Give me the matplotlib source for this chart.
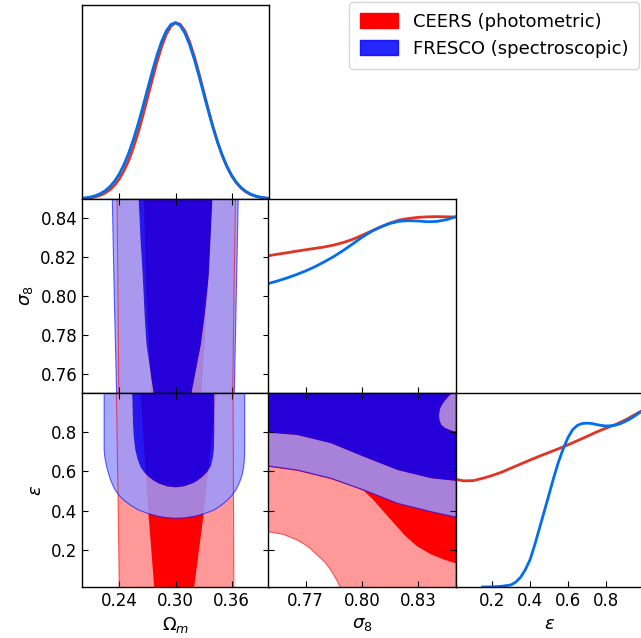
import numpy as np
import matplotlib
matplotlib.use("Agg")
import matplotlib.pyplot as plt
from matplotlib.path import Path
from matplotlib.patches import PathPatch, Patch
from matplotlib.ticker import FormatStrFormatter

# ---- 1D marginals ----
om_grid = np.linspace(0.20, 0.40, 41)
om_ceers = [0.0026, 0.0047, 0.0080, 0.0135, 0.0219, 0.0346, 0.0531, 0.0791, 0.1145, 0.1611,
            0.2198, 0.2917, 0.3758, 0.4700, 0.5714, 0.6746, 0.7735, 0.8615, 0.9319, 0.9792,
            0.9994, 0.9907, 0.9539, 0.8921, 0.8103, 0.7150, 0.6128, 0.5100, 0.4124, 0.3239,
            0.2470, 0.1830, 0.1317, 0.0920, 0.0625, 0.0412, 0.0264, 0.0164, 0.0099, 0.0058, 0.0033]
om_fresco = [0.0044, 0.0075, 0.0124, 0.0200, 0.0313, 0.0477, 0.0708, 0.1022, 0.1436, 0.1962,
             0.2610, 0.3376, 0.4251, 0.5209, 0.6206, 0.7196, 0.8118, 0.8911, 0.9517, 0.9890,
             0.9999, 0.9836, 0.9414, 0.8766, 0.7942, 0.7001, 0.6005, 0.5011, 0.4069, 0.3214,
             0.2471, 0.1848, 0.1345, 0.0952, 0.0656, 0.0439, 0.0286, 0.0182, 0.0112, 0.0067, 0.0039]

s8_grid = np.linspace(0.75, 0.85, 21)
s8_ceers = [0.778, 0.787, 0.795, 0.804, 0.812, 0.820, 0.828, 0.839, 0.853, 0.871, 0.894,
            0.918, 0.942, 0.964, 0.981, 0.990, 0.996, 0.999, 1.000, 0.999, 0.998]
s8_fresco = [0.620, 0.635, 0.652, 0.671, 0.692, 0.716, 0.744, 0.774, 0.808, 0.845, 0.883,
             0.916, 0.942, 0.962, 0.974, 0.977, 0.975, 0.971, 0.973, 0.983, 1.000]

eps_ceers_x = [0.01, 0.05, 0.10, 0.15, 0.20, 0.25, 0.30, 0.35, 0.40, 0.45, 0.50,
               0.55, 0.60, 0.65, 0.70, 0.75, 0.80, 0.85, 0.90, 0.95, 1.00]
eps_ceers = [0.610, 0.602, 0.603, 0.616, 0.632, 0.651, 0.674, 0.697, 0.720, 0.742, 0.763,
             0.784, 0.806, 0.830, 0.854, 0.879, 0.901, 0.921, 0.946, 0.976, 1.006]
eps_fresco_x = [0.15, 0.20, 0.25, 0.30, 0.325, 0.35, 0.375, 0.40, 0.425, 0.45, 0.475, 0.50,
                0.525, 0.55, 0.575, 0.60, 0.625, 0.65, 0.675, 0.70, 0.725, 0.75, 0.775,
                0.80, 0.825, 0.85, 0.875, 0.90, 0.925, 0.95, 0.975, 1.00]
eps_fresco = [0.000, 0.001, 0.004, 0.012, 0.028, 0.055, 0.098, 0.155, 0.240, 0.335, 0.430, 0.525,
              0.622, 0.710, 0.785, 0.848, 0.893, 0.917, 0.927, 0.929, 0.927, 0.921, 0.916,
              0.913, 0.914, 0.918, 0.926, 0.938, 0.952, 0.969, 0.988, 1.003]

# ---- 2D contour outlines ----
# Omega_m vs sigma_8
ml_red_out = [(0.2373, 0.86), (0.2385, 0.80), (0.2395, 0.74), (0.361, 0.74), (0.3625, 0.80), (0.3645, 0.86)]
ml_red_in = [(0.2655, 0.86), (0.269, 0.80), (0.2755, 0.74), (0.3265, 0.74), (0.334, 0.80), (0.3405, 0.86)]
ml_blue_out = [(0.232, 0.86), (0.2345, 0.80), (0.2375, 0.74), (0.3625, 0.74), (0.365, 0.80), (0.3675, 0.86)]
ml_blue_in = [(0.2600, 0.86), (0.2606, 0.85), (0.2625, 0.83), (0.2650, 0.81), (0.2670, 0.79),
              (0.2690, 0.775), (0.272, 0.765), (0.2767, 0.75), (0.280, 0.74),
              (0.313, 0.74), (0.317, 0.75), (0.323, 0.765), (0.327, 0.775), (0.331, 0.79),
              (0.3355, 0.81), (0.3375, 0.83), (0.3394, 0.85), (0.340, 0.86)]

# Omega_m vs epsilon
bl_red_out = [(0.2366, 1.05), (0.2385, 0.5), (0.240, -0.05), (0.3625, -0.05), (0.362, 0.5), (0.3615, 1.05)]
bl_red_in = [(0.262, 1.05), (0.2713, 0.37), (0.2774, 0.0), (0.2774, -0.05),
             (0.3197, -0.05), (0.3197, 0.0), (0.3298, 0.37), (0.345, 1.05)]
bl_blue_out = [(0.2237, 1.05), (0.2237, 0.71), (0.2242, 0.68), (0.2252, 0.65), (0.2266, 0.62),
               (0.2283, 0.59), (0.2303, 0.56), (0.2326, 0.533), (0.2355, 0.505), (0.2396, 0.478),
               (0.2444, 0.454), (0.252, 0.427), (0.2606, 0.403), (0.270, 0.386), (0.2803, 0.372),
               (0.290, 0.364), (0.300, 0.361), (0.310, 0.363), (0.3215, 0.372), (0.332, 0.386),
               (0.3412, 0.403), (0.349, 0.427), (0.3556, 0.454), (0.3605, 0.478), (0.3645, 0.505),
               (0.3675, 0.533), (0.3698, 0.56), (0.3717, 0.59), (0.3728, 0.62), (0.3735, 0.65),
               (0.3738, 0.68), (0.374, 0.71), (0.374, 1.05)]
bl_blue_in = [(0.2534, 1.05), (0.2545, 0.85), (0.2553, 0.78), (0.257, 0.71), (0.2593, 0.665),
              (0.2624, 0.624), (0.2665, 0.595), (0.2713, 0.573), (0.2765, 0.554), (0.282, 0.539),
              (0.291, 0.524), (0.300, 0.519), (0.309, 0.524), (0.318, 0.539), (0.3237, 0.554),
              (0.3287, 0.573), (0.3337, 0.597), (0.3376, 0.624), (0.3398, 0.665), (0.341, 0.71),
              (0.3414, 0.78), (0.3415, 0.85), (0.3412, 1.05)]

# sigma_8 vs epsilon (lower edges of the regions)
bm_red_out = [(0.74, 0.30), (0.75, 0.292), (0.758, 0.279), (0.7656, 0.25), (0.7715, 0.215),
              (0.7763, 0.173), (0.7805, 0.135), (0.7834, 0.096), (0.786, 0.055), (0.7884, 0.01), (0.789, -0.05)]
bm_red_in = [(0.74, 0.64), (0.75, 0.624), (0.7656, 0.603), (0.7835, 0.561), (0.798, 0.512),
             (0.801, 0.50), (0.806, 0.455), (0.811, 0.40), (0.817, 0.335), (0.8226, 0.275),
             (0.829, 0.22), (0.836, 0.18), (0.843, 0.152), (0.849, 0.133), (0.86, 0.12)]
bm_blue_out = [(0.74, 0.632), (0.75, 0.628), (0.7656, 0.607), (0.7835, 0.565), (0.801, 0.505),
               (0.819, 0.437), (0.837, 0.394), (0.849, 0.369), (0.86, 0.36)]
bm_blue_in = [(0.74, 0.80), (0.75, 0.798), (0.7656, 0.786), (0.7835, 0.744), (0.801, 0.675),
              (0.819, 0.607), (0.837, 0.565), (0.849, 0.553), (0.86, 0.55)]
bm_blue_hole = [(0.86, 0.797), (0.851, 0.800), (0.8475, 0.808), (0.844, 0.822), (0.8422, 0.837),
                (0.8412, 0.86), (0.8409, 0.888), (0.8415, 0.92), (0.843, 0.948), (0.8466, 0.99),
                (0.849, 1.0), (0.851, 1.05)]

labels = ['CEERS (photometric)', 'FRESCO (spectroscopic)']
om_ticks = [0.24, 0.30, 0.36]
s8_ticks = [0.77, 0.80, 0.83]
s8_yticks = [0.76, 0.78, 0.80, 0.82, 0.84]
eps_ticks = [0.2, 0.4, 0.6, 0.8]

red_dark, red_light = '#ff0000', '#ff9999'
blue_dark, blue_light = '#0000ff', '#9999ff'
line_red, line_blue = '#E03424', '#006FED'
alpha_add = 0.85


def signed_area(p):
    x, y = p[:, 0], p[:, 1]
    return 0.5 * np.sum(x * np.roll(y, -1) - np.roll(x, -1) * y)


def ring_path(outer, inner):
    # outer polygon with inner polygon cut out
    outer = np.asarray(outer)
    inner = np.asarray(inner)
    if np.sign(signed_area(outer)) == np.sign(signed_area(inner)):
        inner = inner[::-1]
    verts = np.concatenate([outer, outer[:1], inner, inner[:1]])
    codes = ([Path.MOVETO] + [Path.LINETO] * (len(outer) - 1) + [Path.CLOSEPOLY]
             + [Path.MOVETO] + [Path.LINETO] * (len(inner) - 1) + [Path.CLOSEPOLY])
    return Path(verts, codes)


def fill(ax, pts, color, alpha=1.0):
    pts = np.asarray(pts)
    ax.fill(pts[:, 0], pts[:, 1], color=color, alpha=alpha, lw=0)


def edge(ax, pts, color, closed=True):
    pts = np.asarray(pts)
    if closed:
        pts = np.concatenate([pts, pts[:1]])
    ax.plot(pts[:, 0], pts[:, 1], color=color, lw=0.8, alpha=0.6)


fig = plt.figure(figsize=(6.41, 6.38), dpi=100)
W, H = 641.0, 638.0
lefts = [82 / W, 268 / W, 456 / W]
widths = [187 / W, 188 / W, 188 / W]
bottoms = [1 - 199 / H, 1 - 393 / H, 1 - 587 / H]
ph = 194 / H


def panel(col, row):
    ax = fig.add_axes([lefts[col], bottoms[row], widths[col], ph])
    for s in ax.spines.values():
        s.set_linewidth(1.0)
    return ax


def style_2d(ax):
    ax.tick_params(direction='in', top=True, right=True, labelsize=12, length=4.5)


def style_1d(ax):
    ax.tick_params(direction='in', left=False, labelleft=False, labelbottom=False, length=4.5)
    ax.set_ylim(0, 1.1)


om_lim, s8_lim, eps_lim = (0.2, 0.4), (0.75, 0.85), (0.01, 1.0)
lab_size = 13

# top-left: Omega_m 1D
ax = panel(0, 0)
ax.plot(om_grid, om_ceers, color=line_red, lw=2)
ax.plot(om_grid, om_fresco, color=line_blue, lw=2)
ax.set_xlim(om_lim)
ax.set_xticks(om_ticks)
style_1d(ax)

# middle-left: Omega_m vs sigma_8
ax = panel(0, 1)
fill(ax, ml_red_out, red_light)
fill(ax, ml_red_in, red_dark)
ax.add_patch(PathPatch(ring_path(ml_blue_out, ml_blue_in), facecolor=blue_light, alpha=alpha_add, lw=0))
fill(ax, ml_blue_in, blue_dark, alpha_add)
edge(ax, ml_red_out, 'red')
edge(ax, ml_blue_out, 'blue')
ax.set_xlim(om_lim)
ax.set_ylim(s8_lim)
ax.set_xticks(om_ticks)
ax.set_yticks(s8_yticks)
ax.yaxis.set_major_formatter(FormatStrFormatter('%.2f'))
ax.tick_params(labelbottom=False)
style_2d(ax)
ax.set_ylabel(r'$\sigma_8$', fontsize=lab_size)

# bottom-left: Omega_m vs epsilon
ax = panel(0, 2)
fill(ax, bl_red_out, red_light)
fill(ax, bl_red_in, red_dark)
ax.add_patch(PathPatch(ring_path(bl_blue_out, bl_blue_in), facecolor=blue_light, alpha=alpha_add, lw=0))
fill(ax, bl_blue_in, blue_dark, alpha_add)
edge(ax, bl_red_out, 'red')
edge(ax, bl_blue_out, 'blue')
ax.set_xlim(om_lim)
ax.set_ylim(eps_lim)
ax.set_xticks(om_ticks)
ax.set_yticks(eps_ticks)
ax.xaxis.set_major_formatter(FormatStrFormatter('%.2f'))
style_2d(ax)
ax.set_xlabel(r'$\Omega_m$', fontsize=lab_size)
ax.set_ylabel(r'$\varepsilon$', fontsize=lab_size)

# middle-middle: sigma_8 1D
ax = panel(1, 1)
ax.plot(s8_grid, s8_ceers, color=line_red, lw=2)
ax.plot(s8_grid, s8_fresco, color=line_blue, lw=2)
ax.set_xlim(s8_lim)
ax.set_xticks(s8_ticks)
style_1d(ax)

# bottom-middle: sigma_8 vs epsilon
ax = panel(1, 2)
fill(ax, bm_red_out + [(0.86, -0.05), (0.86, 1.05), (0.74, 1.05)], red_light)
fill(ax, bm_red_in + [(0.86, 1.05), (0.74, 1.05)], red_dark)
fill(ax, bm_blue_out + bm_blue_in[::-1], blue_light, alpha_add)
fill(ax, bm_blue_hole + [(0.86, 1.05)], blue_light, alpha_add)
fill(ax, bm_blue_in + bm_blue_hole + [(0.74, 1.05)], blue_dark, alpha_add)
edge(ax, bm_red_out, 'red', closed=False)
edge(ax, bm_blue_out, 'blue', closed=False)
ax.set_xlim(s8_lim)
ax.set_ylim(eps_lim)
ax.set_xticks(s8_ticks)
ax.set_yticks(eps_ticks)
ax.xaxis.set_major_formatter(FormatStrFormatter('%.2f'))
ax.tick_params(labelleft=False)
style_2d(ax)
ax.set_xlabel(r'$\sigma_8$', fontsize=lab_size)

# bottom-right: epsilon 1D
ax = panel(2, 2)
ax.plot(eps_ceers_x, eps_ceers, color=line_red, lw=2)
ax.plot(eps_fresco_x, eps_fresco, color=line_blue, lw=2)
ax.set_xlim(eps_lim)
ax.set_xticks(eps_ticks)
style_1d(ax)
ax.tick_params(labelbottom=True, labelsize=12)
ax.set_xlabel(r'$\varepsilon$', fontsize=lab_size)

handles = [Patch(color=red_dark, label=labels[0]),
           Patch(color=blue_dark, alpha=alpha_add, label=labels[1])]
fig.legend(handles=handles, loc='upper right', bbox_to_anchor=(639 / W, 1 - 2 / H),
           borderaxespad=0, fontsize=13, borderpad=0.6, handlelength=2.1, handleheight=0.9)

fig.savefig('out.png', dpi=100)
